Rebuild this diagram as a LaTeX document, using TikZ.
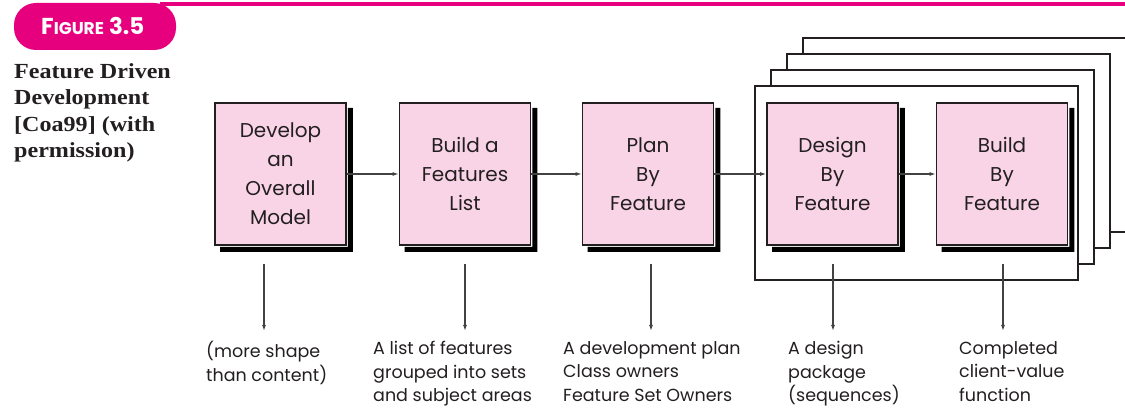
\documentclass[tikz,border=0pt]{standalone}
\usepackage{fontspec}
\setmainfont{Poppins}
\newfontfamily\capfont[FakeStretch=1.12]{Liberation Serif}
\usetikzlibrary{arrows.meta}
\definecolor{fddmagenta}{RGB}{230,0,126}
\definecolor{fddpink}{RGB}{249,212,230}
\definecolor{fddink}{RGB}{35,31,32}

\begin{document}
\begin{tikzpicture}[x=1pt,y=1pt,
    stage/.style={draw=fddink, line width=1.8pt, fill=fddpink, minimum width=131pt, minimum height=142pt,
      align=center, inner sep=0pt, font=\fontsize{20}{29}\selectfont, text=fddink},
    flow/.style={draw=fddink!85, line width=1.1pt, -{Latex[length=6pt,width=4pt]}},
    result/.style={anchor=north west, align=left, inner sep=0pt, font=\fontsize{17.5}{23.5}\selectfont, text=fddink},
    frame/.style={draw=fddink, line width=1.3pt, fill=white}]
  \useasboundingbox (0,0) rectangle (1125,409);

  % heading
  \fill[fddmagenta] (160,402.5) rectangle (1125,406.5);
  \fill[fddmagenta, rounded corners=22pt] (14,359) rectangle (176,406);
  \node[text=white, font=\bfseries, inner sep=0pt, anchor=base west] (figlabel) at (41,374)
    {\fontsize{23}{23}\selectfont F\fontsize{17}{23}\selectfont IGURE\hspace{5pt}\fontsize{23}{23}\selectfont 3.5};
  \node[anchor=north west, align=left, inner sep=0pt, font=\capfont\bfseries\fontsize{21.5}{26.5}\selectfont, text=fddink]
    (caption) at (14,346) {Feature Driven\\Development\\{}[Coa99] (with\\permission)};

  % repeated iterations
  \foreach \k in {3,2,1,0}
    \draw[frame] ({755+16*\k},{129+16*\k}) rectangle ++(323,194);

  \node[stage] (model) at (280.5,235) {Develop\\an\\Overall\\Model};
  \node[stage] (featlist) at (465,235) {Build a\\Features\\List};
  \node[stage] (plan) at (648,235) {Plan\\By\\Feature};
  \node[stage] (design) at (832.5,235) {Design\\By\\Feature};
  \node[stage] (build) at (1002,235) {Build\\By\\Feature};

  % shadows along the right and lower edges
  \foreach \s in {model,featlist,plan,design,build}
    \fill[black] ([xshift=0.9pt,yshift=-5.9pt]\s.north east) -- ([xshift=5.9pt,yshift=-5.9pt]\s.north east)
      -- ([xshift=5.9pt,yshift=-5.9pt]\s.south east) -- ([xshift=5.9pt,yshift=-5.9pt]\s.south west)
      -- ([xshift=5.9pt,yshift=-0.9pt]\s.south west) -- ([xshift=0.9pt,yshift=-0.9pt]\s.south east) -- cycle;

  \draw[flow] (model) -- (featlist);
  \draw[flow] (featlist) -- (plan);
  \draw[flow] (plan) -- (design);
  \draw[flow] (design) -- (build);

  \foreach \s/\dx in {model/-16.5, featlist/0, plan/3, design/0.5, build/1}
    \draw[flow] ([xshift=\dx pt,yshift=-18pt]\s.south) -- ([xshift=\dx pt,yshift=-85pt]\s.south);

  \node[result] (modelout) at (206,68) {(more shape\\than content)};
  \node[result] (featout) at (373,68) {A list of features\\grouped into sets\\and subject areas};
  \node[result] (planout) at (563,68) {A development plan\\Class owners\\Feature Set Owners};
  \node[result] (designout) at (788,68) {A design\\package\\(sequences)};
  \node[result] (buildout) at (959,68) {Completed\\client-value\\function};
\end{tikzpicture}
\end{document}
